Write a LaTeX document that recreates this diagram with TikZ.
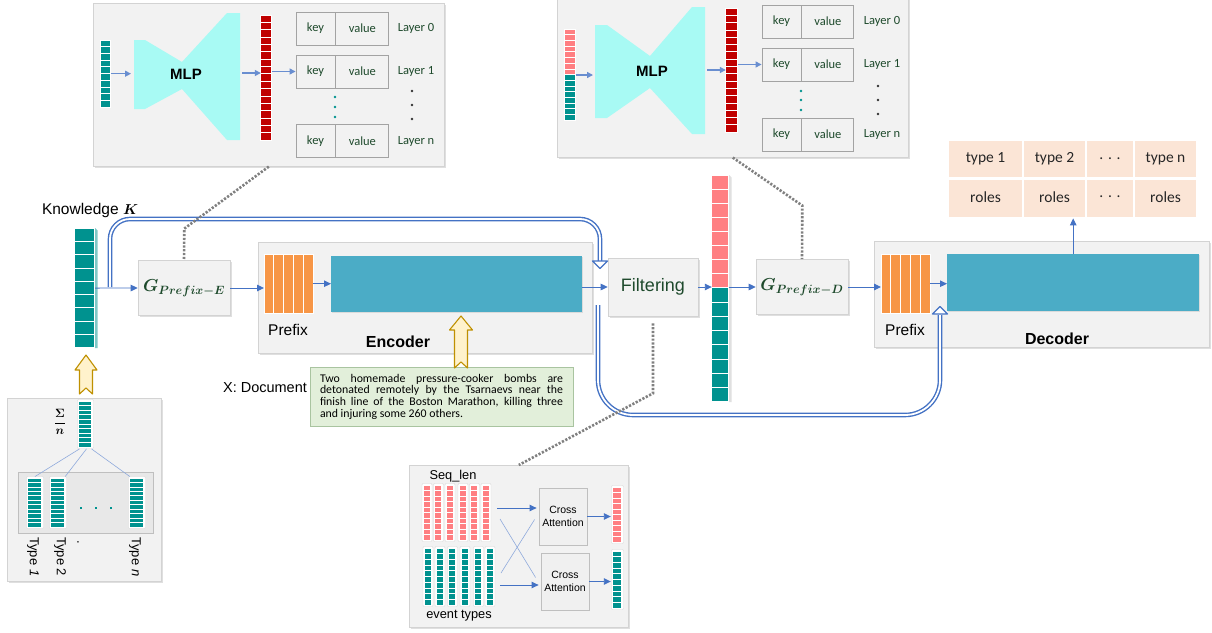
\documentclass[tikz,border=0pt]{standalone}
\usepackage{amsmath}
\usepackage{fontspec}
\setmainfont{Liberation Sans}
\newfontfamily\calib{Carlito}
\usepackage{tikz}
\usetikzlibrary{arrows.meta,positioning,calc,shadows}

\definecolor{panelgray}{HTML}{F2F2F2}
\definecolor{panelline}{HTML}{D3D3D3}
\definecolor{kvline}{HTML}{A3A3A3}
\definecolor{cellteal}{HTML}{00928F}
\definecolor{cellred}{HTML}{C00000}
\definecolor{cellpink}{HTML}{FF7F82}
\definecolor{prefixorange}{HTML}{F79646}
\definecolor{layerblue}{HTML}{4BACC6}
\definecolor{mlpcyan}{HTML}{A8FAF4}
\definecolor{arrowblue}{HTML}{4472C4}
\definecolor{darkgreen}{HTML}{1E4A2C}
\definecolor{docgreen}{HTML}{E2EFDA}
\definecolor{docline}{HTML}{A9C4A0}
\definecolor{tablepeach}{HTML}{FBE5D6}
\definecolor{hintyellow}{HTML}{FFF2CC}
\definecolor{hintgold}{HTML}{BF9000}

\tikzset{
  panel/.style={fill=panelgray, draw=panelline, line width=0.6pt, inner sep=0pt,
    drop shadow={shadow xshift=1.5pt, shadow yshift=-1.5pt, opacity=0.25}},
  gbox/.style={panel, minimum width=92pt, minimum height=55pt, text=darkgreen,
    font=\fontsize{18.5}{20}\selectfont},
  prefixbox/.style={fill=prefixorange, inner sep=0pt, minimum width=49pt, minimum height=59pt},
  layerbox/.style={fill=layerblue, inner sep=0pt,
    drop shadow={shadow xshift=1pt, shadow yshift=-1pt, opacity=0.2}},
  kvbox/.style={draw=kvline, fill=panelgray, line width=0.9pt, minimum height=33pt, inner sep=0pt,
    font=\calib\fontsize{12.5}{14}\selectfont, text=darkgreen},
  layertext/.style={font=\calib\fontsize{12.5}{14}\selectfont, text=darkgreen},
  mlptext/.style={font=\bfseries\fontsize{15}{17}\selectfont},
  ptext/.style={font=\fontsize{15.5}{17}\selectfont},
  enctext/.style={font=\bfseries\fontsize{16}{18}\selectfont},
  seqtext/.style={font=\fontsize{12.8}{14}\selectfont},
  typelabel/.style={font=\fontsize{13}{15}\selectfont, rotate=-90, anchor=west, inner sep=0pt},
  typetext/.style={font=\calib\fontsize{15.5}{17}\selectfont, text=black!85},
  cabox/.style={draw=black!25, fill=black!6, line width=0.8pt, minimum width=48pt, minimum height=57pt,
    align=center, inner sep=1pt, font=\fontsize{10.5}{12.5}\selectfont},
  arr/.style={draw=arrowblue, line width=0.9pt, -{Triangle[length=7pt,width=6.5pt]}},
  kvarr/.style={draw=arrowblue!80, line width=1.3pt, -{Triangle[length=6pt,width=6pt]}},
  dbl/.style={draw=arrowblue, double=white, double distance=1.8pt, line width=1.4pt},
  openhead/.style={fill=white, draw=arrowblue, line width=1.3pt, line join=round},
  hint/.style={fill=hintyellow, draw=hintgold, line width=1.1pt, line join=round},
  dotlink/.style={draw=black!50, line width=2.6pt, dash pattern=on 2.2pt off 1.6pt},
  thinblue/.style={draw=arrowblue!60, line width=0.6pt},
}

% a column of cells: name, centre x, top y, width, cell height, number, colour
\newcommand{\cellvec}[7]{%
  \node[inner sep=0pt, minimum width=#4pt, minimum height=#5*#6*1pt, anchor=north] (#1) at (#2,#3) {};
  \foreach \k in {1,...,#6}
    \filldraw[fill=#7, draw=white, line width=0.7pt] ($(#1.north west)+(0,{(\k-1)*#5})$) rectangle ++(#4,#5);
}
% same, on a small white card
\newcommand{\cardvec}[7]{%
  \filldraw[fill=white, draw=black!15, line width=0.4pt, rounded corners=1pt]
    ({#2-#4/2-1.5},{#3-1.5}) rectangle ({#2+#4/2+1.5},{#3+#5*#6+1.5});
  \cellvec{#1}{#2}{#3}{#4}{#5}{#6}{#7}
}

\begin{document}
\begin{tikzpicture}[x=1pt, y=-1pt]
\useasboundingbox[fill=white] (0,0) rectangle (1212,632);

% MLP panel (encoder side)
\node[panel, anchor=north west, minimum width=351pt, minimum height=163pt] (panE) at (93,3) {};
\cellvec{vinE}{106}{40}{10}{6.7}{10}{cellteal}
\fill[mlpcyan] (134,40) -- (145,40) -- (182,62) -- (227,13) -- (240,13) -- (240,140)
  -- (227,140) -- (182,89) -- (145,109) -- (134,109) -- cycle;
\node[mlptext] (mlpE) at (186,74) {MLP};
\coordinate (mlpEin) at (131,73);
\coordinate (mlpEout) at (242,73);
\cellvec{redE}{266.5}{15}{11}{7.35}{17}{cellred}
\foreach \r/\y in {0/28.5, 1/71.5, n/141} {
  \node[kvbox, minimum width=39pt] (kE\r) at (315.5,\y) {key};
  \node[kvbox, minimum width=53pt, right=0pt of kE\r] (vE\r) {value};
  \node[layertext] at (416,\y) {Layer \r};
}
\draw[kvarr] (vinE.east) -- (vinE.east -| mlpEin);
\draw[kvarr] (mlpEout) -- (mlpEout -| redE.west);
\draw[kvarr] (redE.east |- kE1.west) -- (kE1.west);
\foreach \y in {97,107,117} \fill[cellteal] (335,\y) circle (1.3);
\foreach \y in {91,105,119} \fill[black!80] (412,\y) circle (1.3);

% MLP panel (decoder side)
\node[panel, anchor=north west, minimum width=351pt, minimum height=159pt] (panD) at (557,-2) {};
\cellvec{vinDp}{570.5}{29}{11}{5.7}{8}{cellpink}
\cellvec{vinDt}{570.5}{74.6}{11}{5.7}{8}{cellteal}
\fill[mlpcyan] (595,25) -- (607,25) -- (650,56) -- (692,7) -- (705,7) -- (705,134)
  -- (692,134) -- (650,88) -- (607,118) -- (595,118) -- cycle;
\node[mlptext] (mlpD) at (652,71) {MLP};
\coordinate (mlpDin) at (593,72);
\coordinate (mlpDout) at (707,70);
\cellvec{redD}{732}{8}{12}{7.3}{17}{cellred}
\foreach \r/\y in {0/21.5, 1/64.5, n/134.5} {
  \node[kvbox, minimum width=39pt] (kD\r) at (781.5,\y) {key};
  \node[kvbox, minimum width=52pt, right=0pt of kD\r] (vD\r) {value};
  \node[layertext] at (882,\y) {Layer \r};
}
\draw[kvarr] (vinDp.south east) -- (vinDp.south east -| mlpDin);
\draw[kvarr] (mlpDout) -- (mlpDout -| redD.west);
\draw[kvarr] (redD.east |- kD1.west) -- (kD1.west);
\foreach \y in {91,100,110} \fill[cellteal] (801,\y) circle (1.3);
\foreach \y in {86,100,114} \fill[black!80] (878,\y) circle (1.3);

% Knowledge input
\node[ptext] (ktext) at (90,210) {Knowledge $\boldsymbol{K}$};
\cellvec{know}{85}{228}{20}{13.3}{9}{cellteal}
\fill[cellteal!50] (know.north east) -- ++(2.5,2.5) -- ($(know.south east)+(2.5,0)$) -- (know.south east) -- cycle;
\node[gbox] (ge) at (184,288) {$\boldsymbol{G_{Prefix-E}}$};

% Encoder
\node[panel, anchor=north west, minimum width=334pt, minimum height=111pt] (enc) at (258,242) {};
\node[prefixbox, anchor=north west] (preE) at (264,254) {};
\foreach \i in {0,...,4}
  \draw[draw=white, line width=1pt] ($(preE.north west)+(\i*9.8,0)$) rectangle ++(9.8,59);
\node[layerbox, anchor=north west, minimum width=251pt, minimum height=56pt] (encL) at (331,256) {};
\node[ptext] at (288,330) {Prefix};
\node[enctext] at (398,342) {Encoder};

% Document
\node[fill=docgreen, draw=docline, line width=0.7pt, minimum width=263pt, minimum height=59pt, inner sep=0pt,
  font=\calib\fontsize{11.8}{11.7}\selectfont] (doc) at (441.5,396.5)
  {\parbox{243pt}{\makebox[243pt][s]{Two homemade pressure-cooker bombs are}\\
   \makebox[243pt][s]{detonated remotely by the Tsarnaevs near the}\\
   \makebox[243pt][s]{finish line of the Boston Marathon, killing three}\\
   and injuring some 260 others.}};
\node[font=\fontsize{14.5}{16}\selectfont] (xdoc) at (265,388) {X: Document};
\draw[hint] (461,316) -- (472.5,330) -- (467.5,330) -- (467.5,368) -- (461,362) -- (454.5,368)
  -- (454.5,330) -- (449.5,330) -- cycle;

% Filtering and decoder side
\node[gbox, minimum width=90pt, minimum height=58pt, font=\fontsize{18}{20}\selectfont] (filt) at (653,287) {Filtering};
\cellvec{combp}{720.5}{175}{17}{14.1}{8}{cellpink}
\cellvec{combt}{720.5}{287.8}{17}{14.25}{8}{cellteal}
\fill[black!12] (combp.north east) -- ++(2.5,2.5) -- ($(combt.south east)+(2.5,0)$) -- (combt.south east) -- cycle;
\node[gbox] (gd) at (802,287) {$\boldsymbol{G_{Prefix-D}}$};

\node[panel, anchor=north west, minimum width=335pt, minimum height=106pt] (dec) at (874,241) {};
\node[prefixbox, anchor=north west] (preD) at (881,254) {};
\foreach \i in {0,...,4}
  \draw[draw=white, line width=1pt] ($(preD.north west)+(\i*9.8,0)$) rectangle ++(9.8,59);
\node[layerbox, anchor=north west, minimum width=252pt, minimum height=57pt] (decL) at (947,254) {};
\node[ptext] at (905,330) {Prefix};
\node[enctext] at (1057,339) {Decoder};

% Output table
\node[inner sep=0pt, anchor=north west, minimum width=247pt, minimum height=78pt] (types) at (949,140) {};
\foreach \xa/\xb/\t/\r in {949/1022/type 1/roles, 1024/1085/type 2/roles, 1087/1133/. . ./. . ., 1135/1196/type n/roles} {
  \fill[tablepeach] (\xa,141) rectangle (\xb,177);
  \fill[tablepeach] (\xa,180) rectangle (\xb,217);
  \node[typetext] at ({(\xa+\xb)/2},159) {\t};
  \node[typetext] at ({(\xa+\xb)/2},197) {\r};
}

% Type panel
\node[panel, anchor=north west, minimum width=154pt, minimum height=183pt] (typesp) at (7,398) {};
\draw[hint] (86,355) -- (97,370) -- (92.5,370) -- (92.5,394) -- (86,388) -- (79.5,394)
  -- (79.5,370) -- (75,370) -- cycle;
\node[fill=black!9, draw=black!25, line width=0.6pt, anchor=north west, minimum width=135pt, minimum height=61pt] (typeb) at (18,472) {};
\node[font=\fontsize{13}{15}\selectfont] (avgtext) at (60,422) {$\dfrac{\boldsymbol{\Sigma}}{\boldsymbol{n}}$};
\cardvec{avgv}{85.5}{401}{13}{4.6}{10}{cellteal}
\cardvec{t1}{35}{478}{14}{4.45}{11}{cellteal}
\cardvec{t2}{58}{478}{14}{4.45}{11}{cellteal}
\cardvec{tn}{137}{478}{14}{4.45}{11}{cellteal}
\draw[thinblue] ($(avgv.south)+(-6,1.5)$) -- ($(t1.north)+(0,-1.5)$);
\draw[thinblue] ($(avgv.south)+(1,1.5)$) -- ($(t2.north east)+(0,-1.5)$);
\draw[thinblue] ($(avgv.south)+(6,1.5)$) -- ($(tn.north west)+(0,-1.5)$);
\foreach \x in {81,96,111} \fill[cellteal] (\x-1.2,506.8) rectangle ++(2.4,2.4);
\node[typelabel] at (33,537) {Type \textit{1}};
\node[typelabel] at (60,537) {Type 2};
\node[typelabel] at (78,540) {.};
\node[typelabel] at (135,537) {Type \textit{n}};

% Cross attention panel
\node[panel, anchor=north west, minimum width=219pt, minimum height=162pt] (seqp) at (409,465) {};
\node[seqtext] at (453,476) {Seq\_len};
\foreach \x [count=\i] in {427,438.5,450,463,474.5,486} \cardvec{sp\i}{\x}{485}{7}{5.5}{10}{cellpink};
\foreach \x [count=\i] in {428,440,452.5,465,478.5,490} \cardvec{st\i}{\x}{548}{7}{5.7}{10}{cellteal};
\node[seqtext] at (459,616) {event types};
\node[cabox] (ca1) at (563,516.5) {Cross\\Attention};
\node[cabox] (ca2) at (565,581.5) {Cross\\Attention};
\cardvec{outp}{617.5}{487}{9}{5.5}{10}{cellpink}
\cardvec{outt}{617.5}{551}{9}{5.7}{10}{cellteal}
\coordinate (spo) at (497,508);
\coordinate (sto) at (500,585);
\coordinate (spx) at (500,519);
\coordinate (stx) at (501,573);
\draw[arr] (spo) -- ($(spo -| ca1.west)+(-2,0)$);
\draw[arr] (sto) -- ($(sto -| ca2.west)+(-2,0)$);
\draw[thinblue] (spx) -- ($(ca2.west)+(-5,-4)$);
\draw[thinblue] (stx) -- ($(ca1.west)+(-4,3)$);
\draw[arr] (ca1.east) -- ($(ca1.east -| outp.west)+(-2,0)$);
\draw[arr] (ca2.east) -- ($(ca2.east -| outt.west)+(-2,0)$);

% main flow
\draw[arr] (know.east) -- (ge.west);
\draw[arr] (ge.east) -- (ge.east -| preE.west);
\draw[arr] (preE.east) -- (preE.east -| encL.west);
\draw[arr] (encL.east |- filt.west) -- (filt.west);
\draw[arr] (filt.east) -- (filt.east -| combp.west);
\draw[arr] (combp.east |- gd.west) -- (gd.west);
\draw[arr] (gd.east) -- (gd.east -| preD.west);
\draw[arr] (preD.east) -- (preD.east -| decL.west);
\draw[arr] (decL.north) -- (decL.north |- types.south);

% knowledge shortcuts
\coordinate (ksplit) at (110,287);
\coordinate (ftop) at (600,219);
\coordinate (fhead) at (600,262);
\draw[dbl, rounded corners=20pt] (ksplit) |- (ftop) -- (fhead);
\filldraw[openhead] (592.5,261) -- (607.5,261) -- (600,268.5) -- cycle;
\coordinate (esplit) at (598,305);
\coordinate (dlow) at (940,415);
\coordinate (dhead) at (940,315);
\draw[dbl, rounded corners=35pt] (esplit) |- (dlow) -- (dhead);
\filldraw[openhead] (932.5,314) -- (947.5,314) -- (940,306.5) -- cycle;

% dotted links
\draw[dotlink] (panE.south) -- ++(-84.5,62) -- (ge.north);
\draw[dotlink] (panD.south) -- ++(69.5,48) -- (gd.north);
\draw[dotlink] ($(filt.south)+(0,7)$) -- ++(0,70) -- (seqp.north);
\end{tikzpicture}
\end{document}
